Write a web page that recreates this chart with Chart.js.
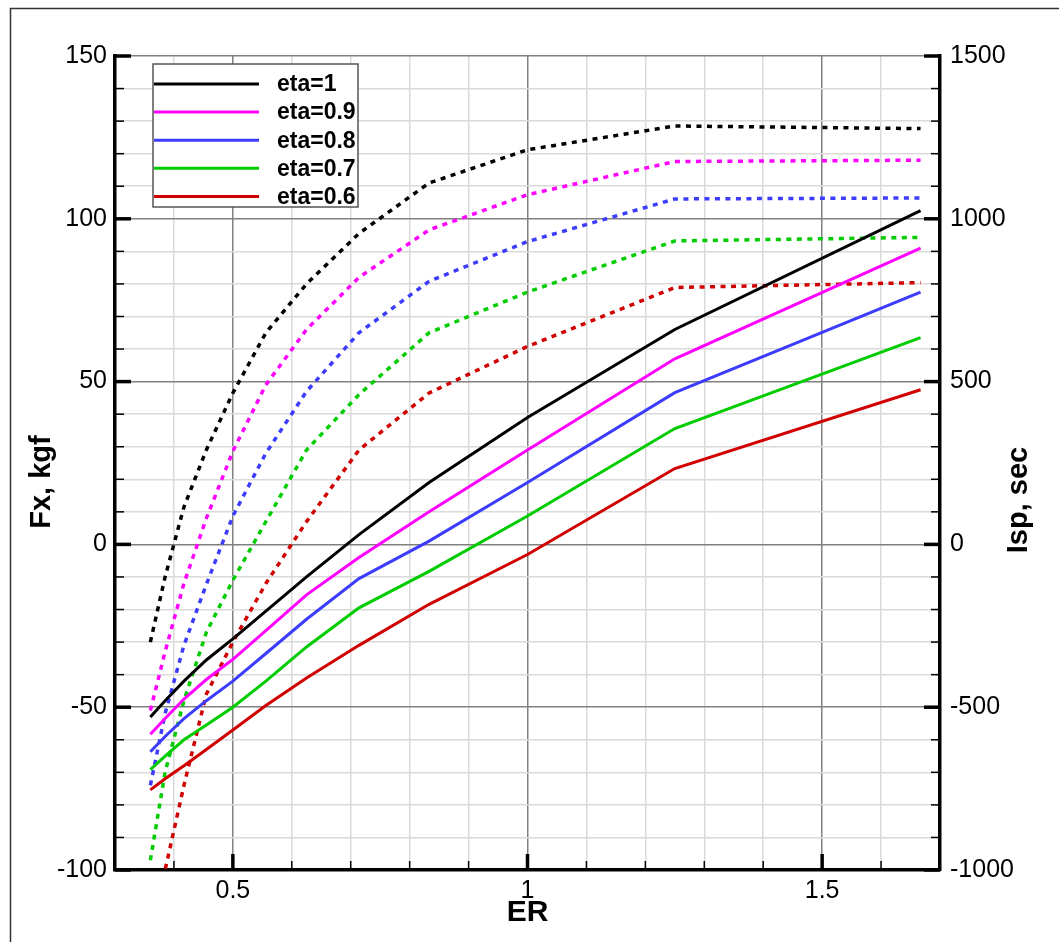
<!DOCTYPE html>
<html>
<head>
<meta charset="utf-8">
<script src="https://cdn.jsdelivr.net/npm/chart.js@4/dist/chart.umd.min.js"></script>
<style>
  html, body { margin: 0; padding: 0; background: #fff; }
  #wrap { position: relative; width: 1059px; height: 942px; }
</style>
</head>
<body>
<div id="wrap"><canvas id="chart" width="1059" height="942"></canvas></div>
<script>
// expansion ratio samples
const erValues = [0.36, 0.385, 0.417, 0.455, 0.5, 0.556, 0.625, 0.714, 0.833, 1.0, 1.25, 1.667];
const etaLabels = ['eta=1', 'eta=0.9', 'eta=0.8', 'eta=0.7', 'eta=0.6'];
const etaColors = ['#000000', '#ff00ff', '#3c3cff', '#00cc00', '#d00000'];

// thrust Fx, kgf (solid lines, left axis)
const fxEta10 = [-53, -48, -42, -35.5, -29, -20.5, -10, 3, 19, 39, 66, 102.5];
const fxEta09 = [-58.3, -53.5, -47.5, -41.5, -35.3, -26.5, -15.5, -4, 10, 29, 57, 91];
const fxEta08 = [-63.7, -59, -53.5, -48, -42, -33.5, -23, -10.5, 1, 19, 46.6, 77.5];
const fxEta07 = [-69.2, -65, -60, -55.5, -50, -42, -31.5, -19.5, -8.3, 8.7, 35.6, 63.5];
const fxEta06 = [-75.4, -72, -68, -63, -57, -49.5, -41, -31, -18.4, -3.1, 23.3, 47.5];

// specific impulse Isp, sec (dotted lines, right axis)
const ispEta10 = [-300, -100, 115, 290, 465, 650, 800, 955, 1110, 1212, 1285, 1277];
const ispEta09 = [-510, -330, -120, 80, 286, 490, 660, 820, 966, 1074, 1176, 1180];
const ispEta08 = [-740, -520, -310, -123, 87, 280, 470, 650, 808, 930, 1061, 1064];
const ispEta07 = [-970, -700, -480, -270, -110, 70, 290, 460, 650, 775, 932, 943];
const ispEta06 = [-1250, -1000, -740, -460, -300, -120, 70, 290, 465, 608, 789, 804];

const fxTicks = [-100, -50, 0, 50, 100, 150];
const ispTicks = [-1000, -500, 0, 500, 1000, 1500];
const erTicks = [0.5, 1, 1.5];

const fxSeries = [fxEta10, fxEta09, fxEta08, fxEta07, fxEta06];
const ispSeries = [ispEta10, ispEta09, ispEta08, ispEta07, ispEta06];

function toPoints(ys) {
    return erValues.map((x, i) => ({ x: x, y: ys[i] }));
}

const datasets = [];
for (let i = 0; i < etaLabels.length; i++) {
    datasets.push({
        label: etaLabels[i],
        data: toPoints(fxSeries[i]),
        yAxisID: 'y',
        borderColor: etaColors[i],
        borderWidth: 3,
        pointRadius: 0,
        tension: 0,
        fill: false
    });
}
for (let i = 0; i < etaLabels.length; i++) {
    datasets.push({
        label: etaLabels[i] + ' Isp',
        data: toPoints(ispSeries[i]),
        yAxisID: 'y2',
        borderColor: etaColors[i],
        borderWidth: 3.5,
        borderDash: [5, 5.5],
        pointRadius: 0,
        tension: 0,
        fill: false
    });
}

const near = (a, b) => Math.abs(a - b) < 1e-6;
const isMajorEr = v => erTicks.some(t => near(t, v));
const isMajorFx = v => fxTicks.some(t => near(t, v));
const isMajorIsp = v => ispTicks.some(t => near(t, v));

const MAJOR_GRID = '#808080';
const MINOR_GRID = '#dadada';
const labelFont = { family: 'Liberation Sans, Arial, sans-serif', size: 25 };

// inward ticks, legend box, axis titles, outer frame
const decorations = {
    id: 'decorations',
    afterDraw(chart) {
        const ctx = chart.ctx;
        const area = chart.chartArea;
        ctx.save();

        // outer frame
        ctx.strokeStyle = '#333';
        ctx.lineWidth = 1.5;
        ctx.strokeRect(10.5, 8.5, 1100, 1000);

        // inward ticks
        ctx.strokeStyle = '#000';
        const xs = chart.scales.x;
        xs.ticks.forEach(t => {
            const px = xs.getPixelForValue(t.value);
            const major = isMajorEr(t.value);
            ctx.lineWidth = major ? 3.5 : 1.5;
            ctx.beginPath();
            ctx.moveTo(px, area.bottom);
            ctx.lineTo(px, area.bottom - (major ? 16 : 9));
            ctx.stroke();
        });
        const ys = chart.scales.y;
        ys.ticks.forEach(t => {
            const py = ys.getPixelForValue(t.value);
            const major = isMajorFx(t.value);
            ctx.lineWidth = major ? 3.5 : 1.5;
            ctx.beginPath();
            ctx.moveTo(area.left, py);
            ctx.lineTo(area.left + (major ? 16 : 9), py);
            ctx.stroke();
        });
        const y2 = chart.scales.y2;
        y2.ticks.forEach(t => {
            const py = y2.getPixelForValue(t.value);
            const major = isMajorIsp(t.value);
            ctx.lineWidth = major ? 3.5 : 1.5;
            ctx.beginPath();
            ctx.moveTo(area.right, py);
            ctx.lineTo(area.right - (major ? 16 : 9), py);
            ctx.stroke();
        });

        // legend
        const bx = area.left + 38, by = area.top + 8, bw = 205, bh = 143;
        ctx.fillStyle = '#fff';
        ctx.fillRect(bx, by, bw, bh);
        ctx.strokeStyle = '#555';
        ctx.lineWidth = 1.5;
        ctx.strokeRect(bx, by, bw, bh);
        ctx.font = 'bold 23px Liberation Sans, Arial, sans-serif';
        ctx.textBaseline = 'middle';
        ctx.textAlign = 'left';
        for (let i = 0; i < etaLabels.length; i++) {
            const ry = by + 20 + i * 28.1;
            ctx.strokeStyle = etaColors[i];
            ctx.lineWidth = 3;
            ctx.beginPath();
            ctx.moveTo(bx + 1, ry);
            ctx.lineTo(bx + 106, ry);
            ctx.stroke();
            ctx.fillStyle = '#000';
            ctx.fillText(etaLabels[i], bx + 124, ry + 1);
        }

        // axis titles
        ctx.fillStyle = '#000';
        ctx.font = 'bold 30px Liberation Sans, Arial, sans-serif';
        ctx.textAlign = 'center';
        ctx.textBaseline = 'middle';
        ctx.fillText('ER', (area.left + area.right) / 2, 913);

        ctx.font = 'bold 29px Liberation Sans, Arial, sans-serif';
        ctx.save();
        ctx.translate(42, 482);
        ctx.rotate(-Math.PI / 2);
        ctx.fillText('Fx, kgf', 0, 0);
        ctx.restore();

        ctx.save();
        ctx.translate(1019, 500);
        ctx.rotate(-Math.PI / 2);
        ctx.fillText('Isp, sec', 0, 0);
        ctx.restore();

        ctx.restore();
    }
};

const chart = new Chart(document.getElementById('chart').getContext('2d'), {
    type: 'line',
    data: { datasets: datasets },
    options: {
        responsive: false,
        animation: false,
        layout: { padding: { left: 0, right: 0, top: 56, bottom: 0 } },
        plugins: {
            legend: { display: false },
            tooltip: { enabled: false }
        },
        scales: {
            x: {
                type: 'linear',
                min: 0.3,
                max: 1.7,
                afterFit: s => { s.height = 72; },
                ticks: {
                    stepSize: 0.1,
                    padding: 6,
                    color: '#000',
                    font: labelFont,
                    maxRotation: 0,
                    autoSkip: false,
                    callback: v => isMajorEr(v) ? String(Math.round(v * 10) / 10) : ''
                },
                grid: {
                    drawTicks: false,
                    color: c => isMajorEr(c.tick.value) ? MAJOR_GRID : MINOR_GRID,
                    lineWidth: 1.5
                },
                border: { display: true, color: '#000', width: 3.5 }
            },
            y: {
                type: 'linear',
                position: 'left',
                min: -100,
                max: 150,
                afterFit: s => { s.width = 115; },
                ticks: {
                    stepSize: 10,
                    padding: 8,
                    color: '#000',
                    font: labelFont,
                    autoSkip: false,
                    callback: v => isMajorFx(v) ? String(Math.round(v)) : ''
                },
                grid: {
                    drawTicks: false,
                    color: c => isMajorFx(c.tick.value) ? MAJOR_GRID : MINOR_GRID,
                    lineWidth: 1.5
                },
                border: { display: true, color: '#000', width: 3.5 }
            },
            y2: {
                type: 'linear',
                position: 'right',
                min: -1000,
                max: 1500,
                afterFit: s => { s.width = 119; },
                ticks: {
                    stepSize: 100,
                    padding: 10,
                    color: '#000',
                    font: labelFont,
                    autoSkip: false,
                    callback: v => isMajorIsp(v) ? String(Math.round(v)) : ''
                },
                grid: { drawOnChartArea: false, drawTicks: false },
                border: { display: true, color: '#000', width: 3.5 }
            }
        }
    },
    plugins: [decorations]
});
</script>
</body>
</html>
